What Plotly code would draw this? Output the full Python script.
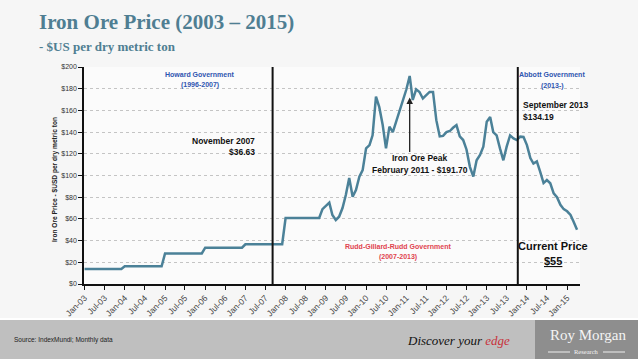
import pandas as pd
import plotly.graph_objects as go

W, H = 638, 359
ML, MR, MT, MB = 84, 58, 67, 75

# ---- data ----
months = pd.date_range("2003-01-01", periods=148, freq="MS").strftime("%Y-%m-%d").tolist()
price = [
    # 2003
    13.82, 13.82, 13.82, 13.82, 13.82, 13.82, 13.82, 13.82, 13.82, 13.82, 13.82, 13.82,
    # 2004
    16.39, 16.39, 16.39, 16.39, 16.39, 16.39, 16.39, 16.39, 16.39, 16.39, 16.39, 16.39,
    # 2005
    28.11, 28.11, 28.11, 28.11, 28.11, 28.11, 28.11, 28.11, 28.11, 28.11, 28.11, 28.11,
    # 2006
    33.45, 33.45, 33.45, 33.45, 33.45, 33.45, 33.45, 33.45, 33.45, 33.45, 33.45, 33.45,
    # 2007
    36.63, 36.63, 36.63, 36.63, 36.63, 36.63, 36.63, 36.63, 36.63, 36.63, 36.63, 36.63,
    # 2008
    60.80, 60.80, 60.80, 60.80, 60.80, 60.80, 60.80, 60.80, 60.80, 60.80, 60.80, 69.0,
    # 2009
    72.0, 75.0, 63.6, 59.0, 62.0, 70.0, 82.0, 97.6, 80.5, 86.6, 99.0, 105.0,
    # 2010
    125.0, 128.0, 137.0, 172.6, 163.0, 146.5, 125.0, 145.0, 140.0, 149.6, 160.0, 168.0,
    # 2011
    179.0, 191.70, 169.6, 179.4, 177.0, 171.0, 174.0, 177.0, 177.0, 151.0, 136.0, 136.5,
    # 2012
    140.0, 141.0, 144.0, 146.5, 136.0, 132.7, 124.0, 108.0, 99.0, 114.0, 119.0, 126.6,
    # 2013
    149.6, 154.0, 140.0, 137.0, 125.0, 114.0, 126.6, 137.0, 134.19, 132.7, 135.8, 135.5,
    # 2014
    128.0, 116.0, 111.0, 113.0, 103.5, 93.0, 95.8, 92.8, 83.6, 80.0, 73.0, 69.0,
    # 2015
    67.0, 63.6, 57.4, 50.0,
]
gov_change_dates = ["2007-09-05", "2013-10-10"]
peak_date, peak_arrow_value = "2011-02-01", 172

TITLE_C = "#4f7e92"
LINE_C = "#4b8198"

def px(x):
    return (x - ML) / (W - ML - MR)

def py(y):
    return (H - MB - y) / (H - MT - MB)

fig = go.Figure()
fig.add_trace(go.Scatter(x=months, y=price, mode="lines",
                         line=dict(color=LINE_C, width=2.5), hoverinfo="x+y",
                         showlegend=False))

shapes = []
# footer
shapes.append(dict(type="rect", xref="paper", yref="paper", x0=px(0), x1=px(W),
                   y0=py(H), y1=py(319), fillcolor="#bfbfbf", line_width=0, layer="below"))
shapes.append(dict(type="rect", xref="paper", yref="paper", x0=px(535), x1=px(W),
                   y0=py(H), y1=py(319), fillcolor="#8e8e8e", line_width=0, layer="below"))
shapes.append(dict(type="line", xref="paper", yref="paper", x0=px(0), x1=px(W),
                   y0=py(319), y1=py(319), line=dict(color="#ffffff", width=2)))
# Research lines
for a, b in [(548, 570), (603, 625)]:
    shapes.append(dict(type="line", xref="paper", yref="paper", x0=px(a), x1=px(b),
                       y0=py(352), y1=py(352), line=dict(color="#eeeeee", width=1)))
# government change lines
for d in gov_change_dates:
    shapes.append(dict(type="line", xref="x", yref="paper", x0=d, x1=d, y0=0, y1=1,
                       line=dict(color="#111111", width=2)))

ann = []
def text(x, y, s, size=8, color="#111", bold=True, xanchor="center", family="Liberation Sans", italic=False):
    if bold:
        s = "<b>" + s + "</b>"
    if italic:
        s = "<i>" + s + "</i>"
    ann.append(dict(xref="paper", yref="paper", x=px(x), y=py(y), text=s, showarrow=False,
                    xanchor=xanchor, yanchor="middle",
                    font=dict(size=size, color=color, family=family)))

text(37, 22, "Iron Ore Price (2003 – 2015)", size=21, color=TITLE_C, xanchor="left", family="Liberation Serif")
text(37, 46, "- $US per dry metric ton", size=13, color=TITLE_C, xanchor="left", family="Liberation Serif")

text(200, 74, "Howard Government", size=7, color="#2f55b0")
text(200, 85, "(1996-2007)", size=7, color="#2f55b0")
text(257, 141, "November 2007", size=8.5, xanchor="right")
text(257, 152, "$36.63", size=8.5, xanchor="right")
text(552, 75, "Abbott Government", size=7, color="#2f55b0")
text(552, 86, "(2013-)", size=7, color="#2f55b0")
text(521, 105, "September 2013", size=8.5, xanchor="left")
text(521, 117, "$134.19", size=8.5, xanchor="left")
text(420, 158, "Iron Ore Peak", size=8.5)
text(420, 170, "February 2011 - $191.70", size=8.5)
text(398, 246, "Rudd-Gillard-Rudd Government", size=7, color="#e0434f")
text(398, 257, "(2007-2013)", size=7, color="#e0434f")
text(553, 246, "Current Price", size=11)
text(553, 261, "<u>$55</u>", size=11)

text(12, 340, "Source: IndexMundi; Monthly data", size=6.5, color="#222", bold=False, xanchor="left")
text(512, 340, "Discover your <span style='color:#c8323c'>edge</span>", size=13, color="#111",
     bold=False, italic=True, xanchor="right", family="Liberation Serif")
text(588, 335, "Roy Morgan", size=15, color="#f4f4f4", bold=False, family="Liberation Serif")
text(586, 351, "Research", size=6.5, color="#f4f4f4", bold=False, family="Liberation Serif")

# peak arrow
ann.append(dict(x=peak_date, y=peak_arrow_value, xref="x", yref="y", text="", showarrow=True,
                ax=0, ay=56, arrowhead=2, arrowsize=1, arrowwidth=1.3, arrowcolor="#222"))

fig.update_layout(
    width=W, height=H,
    margin=dict(l=ML, r=MR, t=MT, b=MB, autoexpand=False),
    paper_bgcolor="#f6f6f6", plot_bgcolor="#fbfbfb",
    shapes=shapes, annotations=ann,
    xaxis=dict(type="date", range=["2002-12-27", "2015-04-28"], tick0="2003-01-01", dtick="M6",
               tickformat="%b-%y", tickangle=-45, ticks="outside", ticklen=4, tickcolor="#111",
               showline=True, linecolor="#111", linewidth=1.5, showgrid=False, zeroline=False,
               automargin=False,
               tickfont=dict(size=8.5, color="#444", family="Liberation Sans")),
    yaxis=dict(range=[0, 200], dtick=20, tickprefix="$", ticks="outside", ticklen=4, tickcolor="#111",
               showline=True, linecolor="#111", linewidth=1.5, showgrid=True, gridcolor="#c4c4c4",
               griddash="dot", gridwidth=1, zeroline=False, automargin=False,
               tickfont=dict(size=7, color="#333", family="Liberation Sans")),
)
fig.add_annotation(xref="paper", yref="paper", x=px(49), y=py(180), text="<b>Iron Ore Price - $USD per dry metric ton</b>",
                   textangle=-90, showarrow=False, font=dict(size=6.6, color="#222", family="Liberation Sans"))

fig.write_html("out.html", config={"displayModeBar": False},
               post_script="document.body.style.margin='0px';document.body.style.overflow='hidden';")
